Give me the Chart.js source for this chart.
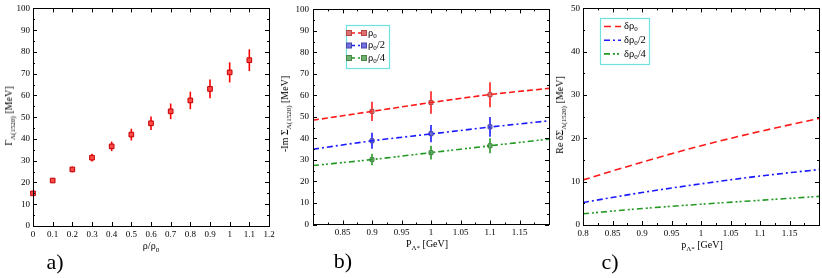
<!DOCTYPE html>
<html><head><meta charset="utf-8">
<script src="https://cdn.jsdelivr.net/npm/chart.js@4"></script>
<style>
html,body{margin:0;padding:0;background:#fff;}
#wrap{position:relative;width:822px;height:278px;overflow:hidden;font-family:'Liberation Serif','Times New Roman',serif;color:#000;}
canvas{position:absolute;top:0;}
.t{position:absolute;white-space:nowrap;font-size:10px;line-height:1;transform:translate(-50%,-50%);}
.t.r{transform:translate(-50%,-50%) rotate(-90deg);}
.t sub{font-size:7px;vertical-align:-3px;line-height:0;}
.p{position:absolute;font-size:22px;line-height:1;white-space:nowrap;transform:translate(-50%,-50%);}
</style></head>
<body>
<div id="wrap">
  <canvas id="ca" width="285" height="278" style="left:0px;width:285px;height:278px"></canvas>
  <canvas id="cb" width="280" height="278" style="left:280px;width:280px;height:278px"></canvas>
  <canvas id="cc" width="272" height="278" style="left:550px;width:272px;height:278px"></canvas>

  <div class="t r" style="left:9px;top:116px">Γ<sub>Λ(1520)</sub> [MeV]</div>
  <div class="t" style="left:151px;top:246px">ρ/ρ<sub>0</sub></div>
  <div class="p" style="left:55px;top:262px">a)</div>

  <div class="t r" style="left:285px;top:114px">-Im Σ<sub>Λ(1520)</sub> [MeV]</div>
  <div class="t" style="left:427px;top:244px">P<sub>Λ*</sub> [GeV]</div>
  <div class="p" style="left:343px;top:261px">b)</div>

  <div class="t r" style="left:560px;top:115px">Re δΣ<sub>Λ(1520)</sub> [MeV]</div>
  <div class="t" style="left:702px;top:245px">p<sub>Λ*</sub> [GeV]</div>
  <div class="p" style="left:610px;top:262px">c)</div>
</div>
<script>
// ---------- data ----------
// panel a) : width vs density
const densityRatio   = [0, 0.1, 0.2, 0.3, 0.4, 0.5, 0.6, 0.7, 0.8, 0.9, 1.0, 1.1];
const widthGamma     = [15.0, 20.9, 26.0, 31.4, 36.6, 42.0, 47.2, 52.7, 57.7, 63.0, 70.6, 76.2];
const widthGammaErr  = [0.6, 0.6, 1.3, 1.8, 2.2, 2.7, 3.1, 3.6, 4.0, 4.3, 4.6, 5.0];

// panel b) : -Im Sigma vs momentum
const momentumPoints = [0.9, 1.0, 1.1];
const imRho0         = [52.6, 56.7, 60.3];
const imRho0Err      = [4.45, 5.2, 5.8];
const imRhoHalf      = [38.9, 42.2, 45.4];
const imRhoHalfErr   = [3.7, 4.0, 4.6];
const imRhoQuarter   = [30.2, 33.4, 36.6];
const imRhoQuarterErr= [2.7, 3.2, 3.5];
const momentumCurve  = [0.8, 0.9, 1.0, 1.1, 1.2];
const imCurveRho0    = [48.5, 52.6, 56.7, 60.4, 63.3];
const imCurveHalf    = [35.0, 38.9, 42.1, 45.3, 48.2];
const imCurveQuarter = [27.4, 30.2, 33.4, 36.6, 39.7];

// panel c) : Re delta Sigma vs momentum
const reCurveRho0    = [10.4, 14.5, 18.3, 21.6, 24.6];
const reCurveHalf    = [5.2, 7.5, 9.5, 11.3, 12.8];
const reCurveQuarter = [2.6, 3.8, 4.8, 5.7, 6.6];

// labels
const seriesLabelsB = ['ρ0', 'ρ0/2', 'ρ0/4'];
const seriesLabelsC = ['δρ0', 'δρ0/2', 'δρ0/4'];

// ---------- helpers ----------
const SERIF = "'Liberation Serif','Times New Roman',serif";
Chart.defaults.font.family = SERIF;
Chart.defaults.color = '#000';
const RED = '#ff1a1a', BLUE = '#1a1aff', GREEN = '#229922';
const DASH = [6, 3], DASHDOT = [6, 3, 2, 3], DASHDOTDOT = [6, 3, 2, 2, 2, 3];

const pts = (xs, ys) => xs.map((x, i) => ({x, y: ys[i]}));
const fmt = v => String(parseFloat(Number(v).toFixed(3)));

function drawRich(ctx, text, x, y, size) {
  // digits right after ρ are drawn as subscript
  const parts = [];
  let m, re = /ρ(\d+)/g, last = 0;
  while ((m = re.exec(text))) {
    parts.push({t: text.slice(last, m.index) + 'ρ', sub: false});
    parts.push({t: m[1], sub: true});
    last = m.index + m[0].length;
  }
  parts.push({t: text.slice(last), sub: false});
  ctx.textBaseline = 'middle'; ctx.textAlign = 'left'; ctx.fillStyle = '#000';
  parts.forEach(p => {
    if (!p.t) return;
    const fs = p.sub ? Math.round(size * 0.7) : size;
    ctx.font = fs + 'px ' + SERIF;
    ctx.fillText(p.t, x, y + (p.sub ? size * 0.3 : 0));
    x += ctx.measureText(p.t).width;
  });
}

const frameTicks = {
  id: 'frameTicks',
  afterDatasetsDraw(chart, args, o) {
    const {ctx, chartArea: a} = chart;
    const xs = chart.scales.x, ys = chart.scales.y;
    ctx.save();
    ctx.strokeStyle = '#000'; ctx.lineWidth = 1; ctx.setLineDash([]);
    const isMajor = (v, step) => Math.abs(v / step - Math.round(v / step)) < 1e-6;
    ctx.beginPath();
    let n = Math.round((xs.max - xs.min) / o.xMinor);
    for (let i = 0; i <= n; i++) {
      const v = xs.min + i * o.xMinor;
      const L = isMajor(v, o.xMajor) ? o.major : o.minor;
      const px = Math.round(xs.getPixelForValue(v)) + 0.5;
      ctx.moveTo(px, a.bottom); ctx.lineTo(px, a.bottom - L);
      ctx.moveTo(px, a.top); ctx.lineTo(px, a.top + L);
    }
    n = Math.round((ys.max - ys.min) / o.yMinor);
    for (let i = 0; i <= n; i++) {
      const v = ys.min + i * o.yMinor;
      const L = isMajor(v, o.yMajor) ? o.major : o.minor;
      const py = Math.round(ys.getPixelForValue(v)) + 0.5;
      ctx.moveTo(a.left, py); ctx.lineTo(a.left + L, py);
      ctx.moveTo(a.right, py); ctx.lineTo(a.right - L, py);
    }
    ctx.stroke();
    ctx.strokeRect(Math.round(a.left) + 0.5, Math.round(a.top) + 0.5,
                   Math.round(a.right - a.left), Math.round(a.bottom - a.top));
    ctx.restore();
  }
};

const errorBars = {
  id: 'errorBars',
  beforeDatasetsDraw(chart) {
    const {ctx} = chart; const xs = chart.scales.x, ys = chart.scales.y;
    chart.data.datasets.forEach(ds => {
      if (!ds.errors) return;
      ctx.save(); ctx.strokeStyle = ds.errorColor; ctx.lineWidth = 1.6; ctx.setLineDash([]);
      ds.data.forEach((p, j) => {
        const e = ds.errors[j]; const px = xs.getPixelForValue(p.x);
        ctx.beginPath();
        ctx.moveTo(px, ys.getPixelForValue(p.y - e));
        ctx.lineTo(px, ys.getPixelForValue(p.y + e));
        ctx.stroke();
      });
      ctx.restore();
    });
  }
};

const boxLegend = {
  id: 'boxLegend',
  afterDraw(chart, args, o) {
    if (!o || !o.show) return;
    const {ctx, chartArea: a} = chart;
    const x0 = Math.round(a.left + o.dx), y0 = Math.round(a.top + o.dy);
    ctx.save();
    ctx.fillStyle = '#fff';
    ctx.fillRect(x0, y0, o.w, o.h);
    ctx.strokeStyle = o.border; ctx.lineWidth = 1.2;
    ctx.strokeRect(x0 + 0.5, y0 + 0.5, o.w, o.h);
    const items = chart.data.datasets.filter(d => d.inLegend);
    items.forEach((d, k) => {
      const cy = y0 + o.first + k * o.gap;
      const lx0 = x0 + o.lineX, lx1 = lx0 + o.lineLen;
      ctx.strokeStyle = d.borderColor; ctx.lineWidth = 1.6; ctx.setLineDash(d.borderDash || []);
      ctx.beginPath(); ctx.moveTo(lx0, cy); ctx.lineTo(lx1, cy); ctx.stroke();
      ctx.setLineDash([]);
      if (d.markerFill) {
        [lx0, lx1].forEach(mx => {
          ctx.fillStyle = d.markerFill; ctx.strokeStyle = d.markerEdge; ctx.lineWidth = 1;
          ctx.fillRect(mx - 2.5, cy - 2.5, 5, 5); ctx.strokeRect(mx - 2.5, cy - 2.5, 5, 5);
        });
      }
      drawRich(ctx, d.label, lx1 + o.textGap, cy, o.font);
    });
    ctx.restore();
  }
};

function linAxis(min, max, step, fixed, hidden, padding) {
  const cfg = {
    type: 'linear', min, max,
    grid: {display: false, drawTicks: false},
    border: {display: false},
    ticks: {
      stepSize: step, padding, autoSkip: false, maxRotation: 0,
      font: {size: 9, family: SERIF}, color: '#000',
      callback: v => hidden.some(h => Math.abs(h - v) < 1e-6) ? '' : fmt(v)
    }
  };
  if (fixed.width !== undefined) cfg.afterFit = s => { s.width = fixed.width; };
  if (fixed.height !== undefined) cfg.afterFit = s => { s.height = fixed.height; };
  return cfg;
}

function baseOptions(xAx, yAx, pad, ticksOpt, legendOpt) {
  return {
    responsive: false, animation: false, devicePixelRatio: 1,
    layout: {padding: pad},
    scales: {x: xAx, y: yAx},
    plugins: {legend: {display: false}, tooltip: {enabled: false},
              frameTicks: ticksOpt, boxLegend: legendOpt || {show: false}},
    elements: {line: {borderCapStyle: 'butt'}}
  };
}

// ---------- panel a ----------
new Chart(document.getElementById('ca'), {
  type: 'scatter',
  data: {datasets: [{
    label: 'Γ Λ(1520)',
    data: pts(densityRatio, widthGamma),
    errors: widthGammaErr, errorColor: '#ff0000',
    pointStyle: 'rect', pointRadius: 3.3, clip: false,
    backgroundColor: '#ff4a4a', borderColor: '#c00000', borderWidth: 1
  }]},
  options: baseOptions(
    linAxis(0, 1.2, 0.1, {height: 52}, [], 3),
    linAxis(0, 100, 10, {width: 33}, [], 3),
    {top: 6, right: 16, left: 0, bottom: 0},
    {xMajor: 0.1, xMinor: 0.1, yMajor: 10, yMinor: 5, major: 4, minor: 2}
  ),
  plugins: [errorBars, frameTicks]
});

// ---------- panel b ----------
function curve(label, ys, color, dash, legendMarker) {
  return {
    type: 'line', label, data: pts(momentumCurve, ys), inLegend: true,
    borderColor: color, borderDash: dash, borderWidth: 1.6, pointRadius: 0,
    cubicInterpolationMode: 'monotone', fill: false,
    markerFill: legendMarker ? legendMarker[0] : null, markerEdge: legendMarker ? legendMarker[1] : null
  };
}
function marks(label, ys, errs, color, fill, edge) {
  return {
    type: 'scatter', label, data: pts(momentumPoints, ys), errors: errs, errorColor: color,
    pointStyle: 'rect', pointRadius: 2.8, backgroundColor: fill, borderColor: edge, borderWidth: 1
  };
}
new Chart(document.getElementById('cb'), {
  type: 'scatter',
  data: {datasets: [
    curve(seriesLabelsB[0], imCurveRho0, RED, DASH, ['#e07070', '#b04848']),
    curve(seriesLabelsB[1], imCurveHalf, BLUE, DASHDOT, ['#7070e0', '#4848a8']),
    curve(seriesLabelsB[2], imCurveQuarter, GREEN, DASHDOTDOT, ['#70b070', '#4a854a']),
    marks(seriesLabelsB[0] + ' points', imRho0, imRho0Err, RED, '#e07070', '#b04848'),
    marks(seriesLabelsB[1] + ' points', imRhoHalf, imRhoHalfErr, BLUE, '#7070e0', '#4848a8'),
    marks(seriesLabelsB[2] + ' points', imRhoQuarter, imRhoQuarterErr, GREEN, '#70b070', '#4a854a')
  ]},
  options: baseOptions(
    linAxis(0.8, 1.2, 0.05, {height: 53.5}, [0.8, 1.2], 3),
    linAxis(0, 100, 10, {width: 33}, [], 4),
    {top: 5.5, right: 11, left: 0, bottom: 0},
    {xMajor: 0.05, xMinor: 0.025, yMajor: 10, yMinor: 5, major: 4, minor: 2},
    {show: true, dx: 33, dy: 15.5, w: 43, h: 43, border: '#70e0e0',
     first: 8, gap: 12.5, lineX: 3, lineLen: 15, textGap: 4, font: 10.5}
  ),
  plugins: [errorBars, frameTicks, boxLegend]
});

// ---------- panel c ----------
new Chart(document.getElementById('cc'), {
  type: 'line',
  data: {datasets: [
    curve(seriesLabelsC[0], reCurveRho0, RED, [7, 4], null),
    curve(seriesLabelsC[1], reCurveHalf, BLUE, DASHDOT, null),
    curve(seriesLabelsC[2], reCurveQuarter, GREEN, DASHDOTDOT, null)
  ]},
  options: baseOptions(
    linAxis(0.8, 1.2, 0.05, {height: 53}, [1.2], 3),
    linAxis(0, 50, 10, {width: 33}, [], 3),
    {top: 6, right: 2, left: 0, bottom: 0},
    {xMajor: 0.05, xMinor: 0.025, yMajor: 10, yMinor: 5, major: 4, minor: 2},
    {show: true, dx: 17, dy: 10, w: 49, h: 46, border: '#70e0e0',
     first: 8.5, gap: 13.7, lineX: 4, lineLen: 17, textGap: 3, font: 10.5}
  ),
  plugins: [frameTicks, boxLegend]
});
</script>
</body></html>
